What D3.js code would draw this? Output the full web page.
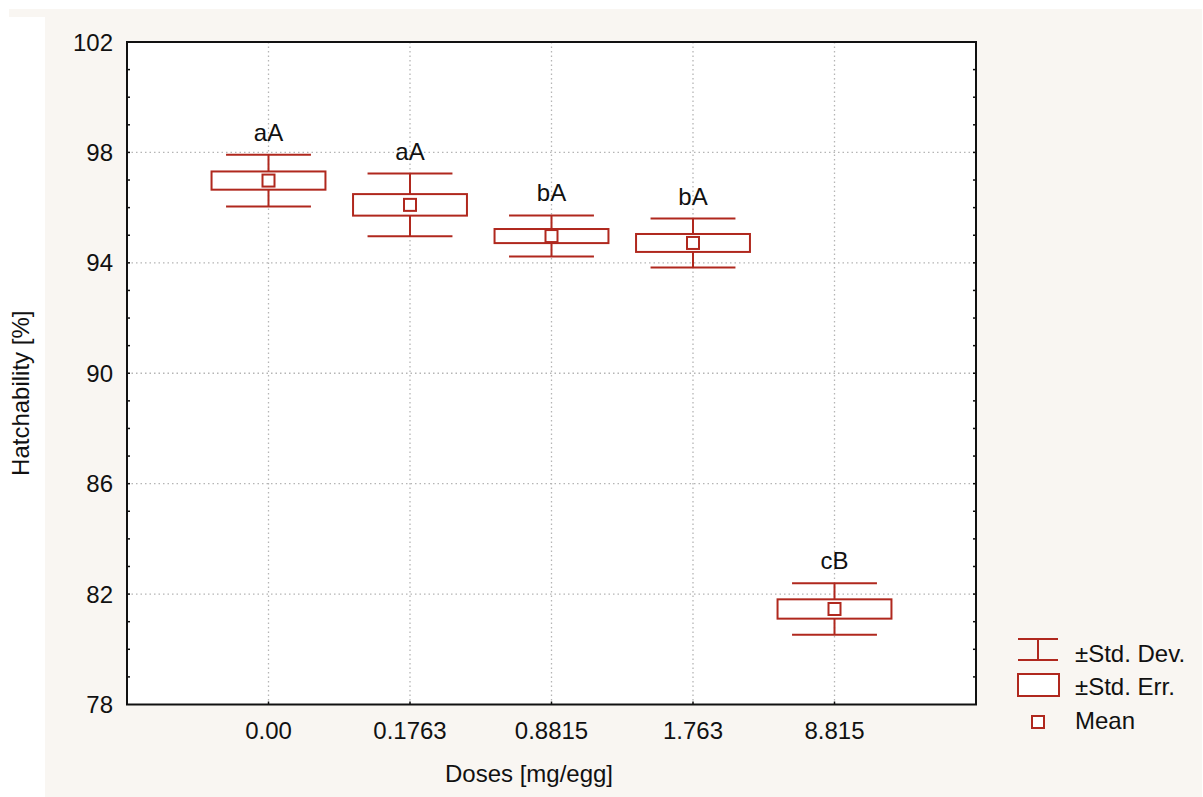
<!DOCTYPE html>
<html>
<head>
<meta charset="utf-8">
<style>
    body { margin: 0; background: #ffffff; }
    svg text { font-family: "Liberation Sans", Arial, sans-serif; fill: #111; }
</style>
</head>
<body>
<svg id="chart" width="1203" height="797"></svg>
<script src="https://d3js.org/d3.v7.min.js"></script>
<script>
    // values
    let doses = ['0.00', '0.1763', '0.8815', '1.763', '8.815']
    let means = [96.98, 96.1, 94.97, 94.72, 81.46]
    let stdErr = [0.33, 0.39, 0.255, 0.325, 0.35]
    let stdDev = [0.94, 1.135, 0.745, 0.885, 0.93]
    let letters = ['aA', 'aA', 'bA', 'bA', 'cB']
    let yTicks = [78, 82, 86, 90, 94, 98, 102]
    let legendNames = ['±Std. Dev.', '±Std. Err.', 'Mean']

    let red = '#b0281e'
    let fs = 24
    let svg = d3.select('#chart')

    // beige page behind the plot
    svg.append('rect').attr('x', 9).attr('y', 9).attr('width', 1193).attr('height', 8).attr('fill', '#f9f6f2')
    svg.append('rect').attr('x', 45).attr('y', 9).attr('width', 1157).attr('height', 788).attr('fill', '#f9f6f2')

    let pLeft = 127, pRight = 976, pTop = 42, pBottom = 704.5

    let x = d3.scalePoint().domain(doses).range([pLeft, pRight]).padding(1)
    let y = d3.scaleLinear().domain([78, 102]).range([pBottom, pTop])
    let step = x.step()

    svg.append('rect')
        .attr('x', pLeft).attr('y', pTop)
        .attr('width', pRight - pLeft).attr('height', pBottom - pTop)
        .attr('fill', '#fff')

    // dotted grid
    let grid = svg.append('g').attr('stroke', '#b5b5b5').attr('stroke-width', 1.3).attr('stroke-dasharray', '1.5,3')
    yTicks.filter(t => t > 78 && t < 102).forEach(t => {
        grid.append('line').attr('x1', pLeft).attr('x2', pRight).attr('y1', y(t)).attr('y2', y(t))
    })
    doses.forEach(d => {
        grid.append('line').attr('x1', x(d)).attr('x2', x(d)).attr('y1', pTop).attr('y2', pBottom)
    })

    // minor ticks, inward on both sides
    let ticks = svg.append('g').attr('stroke', '#111').attr('stroke-width', 1.5)
    d3.range(79, 102).forEach(v => {
        ticks.append('line').attr('x1', pLeft).attr('x2', pLeft + 3).attr('y1', y(v)).attr('y2', y(v))
        ticks.append('line').attr('x1', pRight - 3).attr('x2', pRight).attr('y1', y(v)).attr('y2', y(v))
    })
    doses.forEach(d => {
        ticks.append('line').attr('x1', x(d)).attr('x2', x(d)).attr('y1', pBottom - 3).attr('y2', pBottom)
    })

    // frame
    svg.append('rect')
        .attr('x', pLeft).attr('y', pTop)
        .attr('width', pRight - pLeft).attr('height', pBottom - pTop)
        .attr('fill', 'none').attr('stroke', '#111').attr('stroke-width', 2)

    // tick labels
    yTicks.forEach(t => {
        svg.append('text').attr('x', 113).attr('y', y(t) + 8.5)
            .attr('text-anchor', 'end').attr('font-size', fs).text(t)
    })
    doses.forEach(d => {
        svg.append('text').attr('x', x(d)).attr('y', 738.5)
            .attr('text-anchor', 'middle').attr('font-size', fs).text(d)
    })

    svg.append('text').attr('x', 529).attr('y', 782)
        .attr('text-anchor', 'middle').attr('font-size', fs).text('Doses [mg/egg]')
    svg.append('text').attr('transform', 'translate(29,' + ((pTop + pBottom) / 2 + 20) + ') rotate(-90)')
        .attr('text-anchor', 'middle').attr('font-size', fs).text('Hatchability [%]')

    // boxes
    let boxW = step * 0.805, capW = step * 0.6, meanS = 12
    let g = svg.append('g').attr('stroke', red).attr('stroke-width', 2).attr('fill', 'none')
    doses.forEach((d, i) => {
        let cx = x(d)
        let m = means[i]
        g.append('line').attr('x1', cx).attr('x2', cx).attr('y1', y(m + stdDev[i])).attr('y2', y(m - stdDev[i]))
        g.append('line').attr('x1', cx - capW / 2).attr('x2', cx + capW / 2).attr('y1', y(m + stdDev[i])).attr('y2', y(m + stdDev[i]))
        g.append('line').attr('x1', cx - capW / 2).attr('x2', cx + capW / 2).attr('y1', y(m - stdDev[i])).attr('y2', y(m - stdDev[i]))
        g.append('rect').attr('x', cx - boxW / 2).attr('y', y(m + stdErr[i]))
            .attr('width', boxW).attr('height', y(m - stdErr[i]) - y(m + stdErr[i]))
            .attr('fill', '#fff')
        g.append('rect').attr('x', cx - meanS / 2).attr('y', y(m) - meanS / 2)
            .attr('width', meanS).attr('height', meanS).attr('fill', '#fff')
        svg.append('text').attr('x', cx).attr('y', y(m + stdDev[i]) - 14)
            .attr('text-anchor', 'middle').attr('font-size', fs).text(letters[i])
    })

    // legend
    let lg = svg.append('g').attr('stroke', red).attr('stroke-width', 2).attr('fill', 'none')
    lg.append('line').attr('x1', 1018).attr('x2', 1058).attr('y1', 639).attr('y2', 639)
    lg.append('line').attr('x1', 1018).attr('x2', 1058).attr('y1', 660).attr('y2', 660)
    lg.append('line').attr('x1', 1038).attr('x2', 1038).attr('y1', 639).attr('y2', 660)
    lg.append('rect').attr('x', 1018).attr('y', 674).attr('width', 41).attr('height', 22).attr('fill', '#fff')
    lg.append('rect').attr('x', 1032).attr('y', 716).attr('width', 12).attr('height', 12).attr('fill', '#fff')
    let legendY = [661.5, 694.5, 729]
    legendNames.forEach((n, i) => {
        svg.append('text').attr('x', 1075).attr('y', legendY[i]).attr('font-size', fs).text(n)
    })
</script>
</body>
</html>
